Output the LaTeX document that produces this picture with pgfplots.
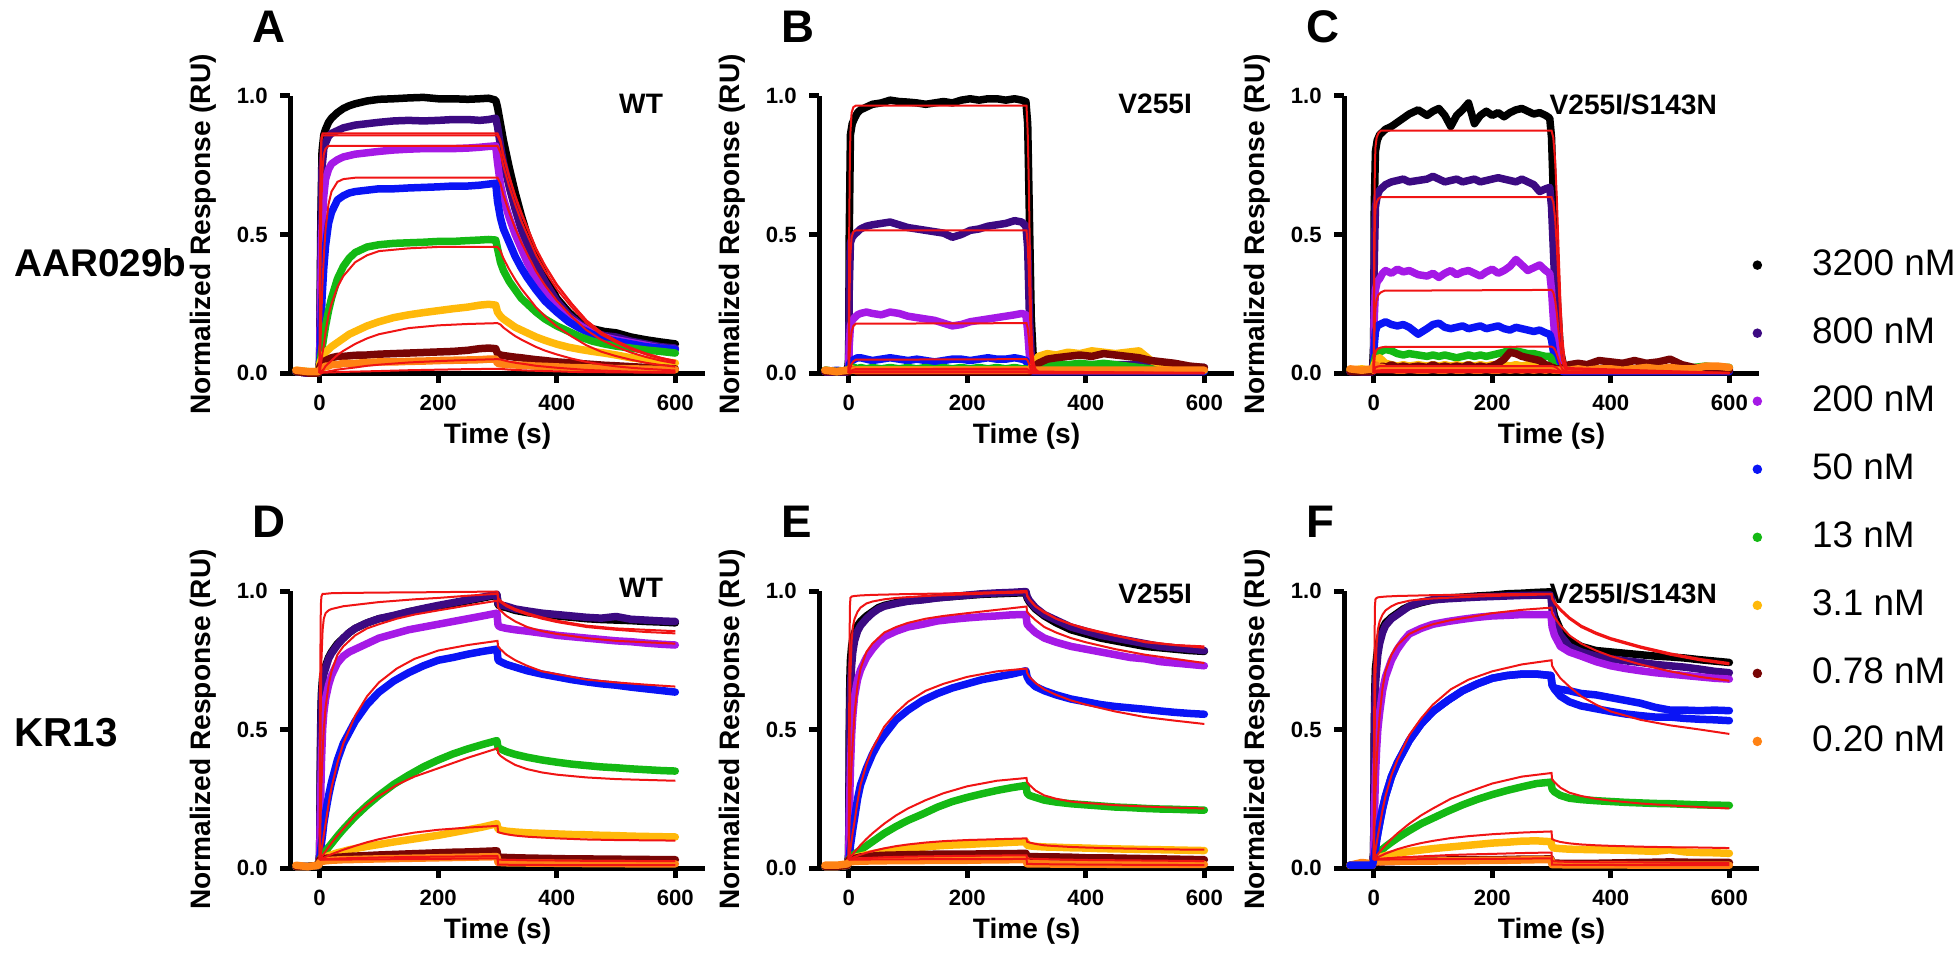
\documentclass[border=0pt]{standalone}
\usepackage{pgfplots}
\usepackage{pgfplotstable}
\pgfplotsset{compat=1.18}
\usepackage{fontspec}
\setmainfont{Liberation Sans}

\definecolor{c1}{RGB}{0,0,0}
\definecolor{c2}{RGB}{60,10,130}
\definecolor{c3}{RGB}{165,25,230}
\definecolor{c4}{RGB}{10,20,245}
\definecolor{c5}{RGB}{20,185,20}
\definecolor{c6}{RGB}{255,185,10}
\definecolor{c7}{RGB}{120,5,5}
\definecolor{c8}{RGB}{255,130,20}
\definecolor{fitred}{RGB}{240,20,20}

% ---------- panel A: AAR029b / WT ----------
\pgfplotstableread{
t a b c d e f g h
-40 0.005 0.005 0.005 0.005 0.005 0.01 0.005 0.01
-20 0.0 0.0 0.0 0.0 0.005 0.005 0.0 0.005
-2 0.0 0.0 0.0 0.0 0.0 0.005 0.0 0.005
0 0.05 0.04 0.03 0.02 0.03 0.03 0.02 0.01
2 0.55 0.45 0.30 0.15 0.06 0.045 0.03 0.015
4 0.80 0.74 0.52 0.27 0.09 0.055 0.035 0.02
7 0.86 0.81 0.64 0.38 0.13 0.065 0.04 0.02
10 0.88 0.83 0.70 0.46 0.17 0.075 0.045 0.025
15 0.905 0.855 0.735 0.54 0.225 0.085 0.05 0.025
20 0.92 0.865 0.755 0.58 0.27 0.095 0.055 0.03
30 0.94 0.875 0.77 0.625 0.34 0.11 0.06 0.03
40 0.955 0.885 0.78 0.64 0.385 0.125 0.06 0.035
50 0.965 0.89 0.785 0.65 0.415 0.14 0.062 0.035
60 0.972 0.895 0.79 0.655 0.435 0.15 0.064 0.035
80 0.982 0.90 0.795 0.66 0.455 0.17 0.065 0.038
100 0.988 0.905 0.80 0.665 0.463 0.185 0.068 0.04
125 0.99 0.91 0.805 0.665 0.468 0.20 0.07 0.04
150 0.993 0.912 0.808 0.668 0.47 0.21 0.072 0.042
175 0.995 0.91 0.81 0.67 0.472 0.218 0.074 0.043
200 0.99 0.912 0.81 0.672 0.475 0.225 0.076 0.045
225 0.99 0.915 0.81 0.675 0.475 0.232 0.078 0.046
250 0.988 0.915 0.812 0.675 0.478 0.238 0.082 0.047
270 0.99 0.912 0.815 0.678 0.48 0.245 0.088 0.048
285 0.992 0.915 0.818 0.682 0.482 0.248 0.09 0.05
297 0.985 0.92 0.82 0.685 0.48 0.245 0.088 0.05
300 0.96 0.89 0.76 0.62 0.45 0.22 0.07 0.035
305 0.90 0.82 0.68 0.56 0.40 0.205 0.065 0.033
310 0.84 0.76 0.63 0.52 0.37 0.195 0.063 0.032
320 0.74 0.67 0.56 0.47 0.33 0.18 0.06 0.03
330 0.65 0.59 0.50 0.42 0.30 0.165 0.057 0.029
340 0.57 0.52 0.45 0.38 0.27 0.155 0.055 0.028
350 0.50 0.46 0.40 0.345 0.25 0.145 0.052 0.027
365 0.42 0.39 0.34 0.30 0.22 0.13 0.048 0.025
380 0.35 0.33 0.29 0.26 0.195 0.118 0.045 0.024
400 0.27 0.26 0.24 0.22 0.17 0.104 0.04 0.022
420 0.22 0.21 0.20 0.185 0.15 0.093 0.037 0.02
440 0.18 0.175 0.17 0.16 0.13 0.085 0.034 0.019
460 0.16 0.15 0.145 0.14 0.115 0.078 0.031 0.018
480 0.15 0.135 0.13 0.125 0.105 0.072 0.028 0.017
500 0.145 0.13 0.12 0.115 0.097 0.065 0.026 0.016
525 0.13 0.115 0.11 0.105 0.09 0.055 0.023 0.015
550 0.12 0.105 0.10 0.095 0.083 0.048 0.02 0.014
575 0.112 0.095 0.09 0.09 0.078 0.042 0.018 0.013
600 0.105 0.09 0.085 0.085 0.072 0.036 0.015 0.012
}\datA
\pgfplotstableread{
t a b c d e f g h
0 0 0 0 0 0 0 0 0
1 0.6 0.55 0.3 0.08 0.015 0.002 0 0
2 0.8 0.78 0.5 0.15 0.03 0.004 0.001 0
3 0.85 0.84 0.62 0.22 0.045 0.006 0.001 0
5 0.865 0.858 0.74 0.33 0.075 0.01 0.002 0.001
7 0.865 0.858 0.79 0.42 0.1 0.014 0.003 0.001
10 0.865 0.858 0.81 0.52 0.15 0.025 0.004 0.001
15 0.865 0.858 0.82 0.61 0.21 0.035 0.006 0.002
20 0.865 0.858 0.82 0.655 0.25 0.045 0.008 0.002
30 0.865 0.858 0.82 0.69 0.31 0.065 0.012 0.003
40 0.865 0.858 0.82 0.70 0.35 0.08 0.015 0.004
60 0.865 0.858 0.82 0.705 0.40 0.105 0.02 0.005
80 0.865 0.858 0.82 0.705 0.425 0.125 0.026 0.006
100 0.865 0.858 0.82 0.705 0.44 0.14 0.03 0.007
150 0.865 0.858 0.82 0.705 0.45 0.162 0.038 0.01
200 0.865 0.858 0.82 0.705 0.455 0.172 0.043 0.012
250 0.865 0.858 0.82 0.705 0.455 0.177 0.047 0.014
300 0.865 0.858 0.82 0.705 0.455 0.18 0.05 0.015
305 0.84 0.833 0.795 0.684 0.441 0.175 0.049 0.015
310 0.787 0.781 0.746 0.642 0.414 0.164 0.046 0.014
320 0.709 0.704 0.672 0.578 0.373 0.148 0.041 0.012
330 0.64 0.635 0.607 0.522 0.337 0.133 0.037 0.011
340 0.58 0.575 0.549 0.472 0.305 0.121 0.034 0.01
350 0.528 0.523 0.50 0.43 0.278 0.11 0.031 0.009
365 0.45 0.446 0.426 0.367 0.237 0.094 0.026 0.008
380 0.389 0.386 0.369 0.317 0.205 0.081 0.023 0.007
400 0.32 0.317 0.303 0.261 0.168 0.067 0.019 0.006
425 0.251 0.249 0.238 0.204 0.132 0.052 0.015 0.004
450 0.19 0.189 0.18 0.155 0.10 0.04 0.011 0.003
475 0.147 0.146 0.139 0.12 0.077 0.031 0.009 0.003
500 0.117 0.116 0.111 0.095 0.061 0.024 0.007 0.002
525 0.091 0.09 0.086 0.074 0.048 0.019 0.005 0.002
550 0.071 0.07 0.067 0.058 0.037 0.015 0.004 0.001
575 0.055 0.055 0.052 0.045 0.029 0.012 0.003 0.001
600 0.043 0.043 0.041 0.035 0.023 0.009 0.003 0.001
}\fitA

% ---------- panel B: AAR029b / V255I ----------
\pgfplotstableread{
t a b c d e f g h
-40 0.01 0.005 0.005 0.005 0.01 0.01 0.005 0.01
-20 0.005 0.005 0.005 0.01 0.005 0.005 0.005 0.005
-2 0.01 0.005 0.005 0.005 0.01 0.01 0.005 0.01
0 0.05 0.03 0.02 0.01 0.01 0.01 0.005 0.01
1 0.5 0.3 0.1 0.03 0.015 0.01 0.005 0.01
3 0.86 0.47 0.17 0.04 0.02 0.015 0.01 0.01
6 0.90 0.49 0.19 0.045 0.02 0.015 0.01 0.01
10 0.92 0.50 0.20 0.05 0.02 0.01 0.01 0.01
15 0.94 0.51 0.21 0.055 0.015 0.01 0.005 0.01
20 0.95 0.52 0.215 0.055 0.02 0.01 0.005 0.01
30 0.96 0.53 0.22 0.05 0.015 0.01 0.005 0.01
40 0.97 0.535 0.215 0.045 0.02 0.01 0.005 0.01
55 0.975 0.54 0.21 0.05 0.015 0.01 0.005 0.01
70 0.985 0.545 0.22 0.055 0.02 0.01 0.005 0.01
85 0.98 0.535 0.215 0.05 0.015 0.01 0.005 0.01
100 0.978 0.525 0.205 0.045 0.02 0.01 0.005 0.01
115 0.975 0.52 0.20 0.05 0.015 0.01 0.005 0.01
130 0.97 0.515 0.195 0.045 0.02 0.01 0.005 0.01
145 0.975 0.51 0.19 0.04 0.015 0.01 0.005 0.01
160 0.98 0.505 0.18 0.045 0.02 0.01 0.005 0.01
175 0.975 0.49 0.17 0.05 0.015 0.01 0.005 0.01
190 0.985 0.50 0.175 0.05 0.02 0.01 0.005 0.01
205 0.99 0.515 0.185 0.045 0.015 0.01 0.005 0.01
220 0.985 0.52 0.19 0.05 0.02 0.01 0.005 0.01
235 0.99 0.53 0.195 0.055 0.015 0.01 0.005 0.01
250 0.99 0.535 0.20 0.05 0.02 0.01 0.005 0.01
265 0.985 0.54 0.205 0.05 0.015 0.01 0.005 0.01
280 0.99 0.55 0.21 0.055 0.02 0.01 0.005 0.01
292 0.985 0.545 0.215 0.05 0.015 0.01 0.005 0.01
299 0.98 0.53 0.21 0.045 0.015 0.01 0.005 0.01
302 0.90 0.45 0.15 0.03 0.01 0.01 0.005 0.01
305 0.55 0.20 0.06 0.01 0.01 0.01 0.005 0.01
308 0.20 0.06 0.02 0.005 0.01 0.02 0.01 0.01
312 0.03 0.02 0.01 0.005 0.01 0.03 0.02 0.01
320 0.01 0.015 0.01 0.005 0.02 0.06 0.035 0.01
335 0.01 0.02 0.01 0.005 0.03 0.07 0.05 0.01
350 0.01 0.025 0.01 0.005 0.035 0.065 0.055 0.01
370 0.01 0.025 0.01 0.005 0.03 0.075 0.06 0.01
390 0.01 0.03 0.01 0.005 0.035 0.07 0.065 0.01
410 0.01 0.03 0.01 0.005 0.03 0.08 0.06 0.01
430 0.01 0.03 0.01 0.005 0.035 0.075 0.07 0.01
450 0.01 0.03 0.01 0.005 0.03 0.07 0.065 0.01
470 0.01 0.03 0.01 0.005 0.025 0.075 0.06 0.01
490 0.01 0.03 0.01 0.005 0.02 0.08 0.055 0.01
510 0.01 0.03 0.01 0.005 0.015 0.045 0.045 0.01
530 0.01 0.028 0.01 0.005 0.01 0.03 0.04 0.01
550 0.01 0.025 0.01 0.005 0.01 0.025 0.035 0.01
575 0.01 0.022 0.01 0.005 0.01 0.02 0.025 0.01
600 0.01 0.02 0.01 0.005 0.01 0.015 0.02 0.01
}\datB
\pgfplotstableread{
t a b c d e f g h
0 0 0 0 0 0 0 0 0
1 0.53 0.2 0.04 0.008 0.002 0.001 0.001 0
2 0.77 0.35 0.08 0.015 0.004 0.002 0.002 0.001
3 0.87 0.43 0.11 0.02 0.006 0.003 0.002 0.001
5 0.94 0.49 0.15 0.032 0.009 0.004 0.003 0.002
8 0.96 0.51 0.17 0.042 0.012 0.005 0.004 0.002
12 0.965 0.515 0.178 0.048 0.014 0.006 0.004 0.002
300 0.965 0.515 0.18 0.05 0.015 0.006 0.004 0.002
302 0.87 0.464 0.162 0.045 0.013 0.005 0.004 0.002
304 0.675 0.36 0.126 0.035 0.01 0.004 0.003 0.001
306 0.386 0.206 0.072 0.02 0.006 0.002 0.002 0.001
308 0.174 0.093 0.032 0.009 0.003 0.001 0.001 0
310 0.077 0.041 0.014 0.004 0.001 0 0 0
312 0.039 0.021 0.007 0.002 0 0 0 0
315 0.014 0.008 0.003 0.001 0 0 0 0
320 0.005 0.003 0.001 0 0 0 0 0
600 0 0 0 0 0 0 0 0
}\fitB

% ---------- panel C: AAR029b / V255I/S143N ----------
\pgfplotstableread{
t a b c d e f g h
-40 0.01 0.005 0.01 0.005 0.01 0.01 0.005 0.015
-20 0.01 0.005 0.005 0.01 0.01 0.015 0.005 0.01
-2 0.01 0.005 0.005 0.005 0.01 0.01 0.005 0.015
0 0.10 0.05 0.03 0.02 0.02 0.02 0.01 0.01
1 0.60 0.40 0.20 0.10 0.04 0.03 0.01 0.02
3 0.80 0.60 0.30 0.15 0.06 0.04 0.015 0.03
6 0.84 0.64 0.33 0.17 0.07 0.05 0.02 0.025
10 0.86 0.66 0.34 0.175 0.075 0.055 0.02 0.02
15 0.87 0.67 0.36 0.18 0.08 0.045 0.025 0.02
20 0.88 0.68 0.37 0.185 0.085 0.035 0.02 0.015
30 0.89 0.69 0.36 0.175 0.08 0.03 0.03 0.015
40 0.905 0.695 0.375 0.17 0.07 0.025 0.02 0.01
50 0.92 0.70 0.365 0.175 0.065 0.03 0.025 0.01
60 0.935 0.69 0.37 0.165 0.07 0.025 0.02 0.015
75 0.95 0.695 0.355 0.14 0.065 0.03 0.025 0.01
90 0.93 0.70 0.35 0.16 0.06 0.025 0.02 0.01
100 0.945 0.71 0.36 0.175 0.065 0.03 0.03 0.015
110 0.955 0.70 0.345 0.18 0.06 0.025 0.02 0.01
120 0.93 0.69 0.36 0.165 0.065 0.03 0.025 0.01
130 0.89 0.695 0.37 0.16 0.06 0.025 0.02 0.015
140 0.93 0.70 0.355 0.165 0.055 0.03 0.025 0.01
150 0.95 0.69 0.365 0.17 0.06 0.025 0.02 0.01
160 0.975 0.695 0.37 0.16 0.065 0.03 0.03 0.015
170 0.90 0.70 0.36 0.165 0.06 0.025 0.02 0.01
180 0.93 0.69 0.35 0.17 0.065 0.03 0.025 0.01
190 0.945 0.695 0.365 0.16 0.06 0.025 0.02 0.015
200 0.93 0.70 0.375 0.165 0.065 0.03 0.025 0.01
210 0.94 0.705 0.36 0.17 0.07 0.025 0.035 0.01
220 0.925 0.70 0.37 0.16 0.075 0.03 0.05 0.015
230 0.94 0.695 0.385 0.155 0.085 0.025 0.075 0.01
240 0.95 0.69 0.41 0.165 0.08 0.03 0.07 0.015
250 0.955 0.70 0.39 0.16 0.075 0.025 0.06 0.01
260 0.945 0.69 0.37 0.155 0.07 0.03 0.055 0.015
270 0.935 0.68 0.38 0.15 0.07 0.025 0.05 0.01
280 0.94 0.655 0.39 0.155 0.065 0.03 0.045 0.015
290 0.93 0.665 0.37 0.145 0.06 0.025 0.03 0.01
297 0.92 0.67 0.36 0.14 0.06 0.025 0.025 0.015
300 0.85 0.60 0.30 0.12 0.05 0.02 0.02 0.015
303 0.65 0.45 0.20 0.08 0.03 0.015 0.02 0.01
306 0.45 0.30 0.12 0.04 0.02 0.01 0.015 0.01
310 0.25 0.15 0.06 0.02 0.01 0.01 0.015 0.01
315 0.08 0.05 0.02 0.01 0.01 0.01 0.015 0.01
320 0.03 0.02 0.01 0.005 0.01 0.01 0.02 0.01
330 0.02 0.02 0.01 0.005 0.01 0.015 0.03 0.01
345 0.01 0.015 0.01 0.005 0.01 0.015 0.035 0.015
360 0.01 0.015 0.01 0.005 0.01 0.015 0.03 0.01
380 0.01 0.015 0.01 0.005 0.01 0.015 0.045 0.015
400 0.01 0.015 0.01 0.005 0.01 0.015 0.04 0.015
420 0.01 0.015 0.01 0.005 0.01 0.015 0.035 0.01
440 0.01 0.015 0.01 0.005 0.01 0.015 0.045 0.015
460 0.01 0.015 0.01 0.005 0.01 0.015 0.035 0.02
480 0.01 0.015 0.01 0.005 0.015 0.015 0.04 0.015
500 0.01 0.015 0.01 0.005 0.01 0.015 0.05 0.02
520 0.01 0.015 0.01 0.005 0.015 0.015 0.03 0.015
540 0.01 0.015 0.01 0.005 0.02 0.015 0.02 0.015
560 0.01 0.015 0.01 0.005 0.025 0.015 0.015 0.025
580 0.01 0.015 0.01 0.005 0.02 0.015 0.01 0.025
600 0.01 0.015 0.01 0.005 0.02 0.015 0.01 0.02
}\datC
\pgfplotstableread{
t a b c d e f g h
0 0 0 0 0 0 0 0 0
1 0.525 0.38 0.12 0.038 0.01 0.004 0.002 0.001
2 0.745 0.54 0.195 0.062 0.016 0.0065 0.003 0.001
3 0.815 0.59 0.234 0.074 0.02 0.008 0.004 0.002
5 0.85 0.616 0.264 0.084 0.022 0.009 0.004 0.002
8 0.866 0.629 0.282 0.089 0.024 0.0095 0.005 0.002
12 0.875 0.635 0.291 0.092 0.025 0.01 0.005 0.002
18 0.875 0.635 0.297 0.094 0.025 0.01 0.005 0.002
300 0.875 0.635 0.30 0.095 0.025 0.01 0.005 0.002
303 0.85 0.616 0.291 0.092 0.024 0.0095 0.005 0.002
306 0.77 0.559 0.264 0.084 0.022 0.009 0.004 0.002
309 0.63 0.457 0.216 0.068 0.018 0.007 0.004 0.001
312 0.44 0.318 0.15 0.048 0.0125 0.005 0.003 0.001
315 0.26 0.19 0.09 0.029 0.0075 0.003 0.002 0.001
318 0.13 0.095 0.045 0.014 0.004 0.0015 0.001 0
322 0.05 0.038 0.018 0.006 0.0015 0.0006 0 0
326 0.018 0.013 0.006 0.002 0.0005 0.0002 0 0
600 0 0 0 0 0 0 0 0
}\fitC

% ---------- panel D: KR13 / WT ----------
\pgfplotstableread{
t a b c d e f g h
-40 0.005 0.005 0.005 0.005 0.005 0.005 0.005 0.01
-20 0.005 0.005 0.005 0.005 0.005 0.005 0.005 0.005
-2 0.01 0.01 0.01 0.01 0.01 0.01 0.01 0.01
0 0.05 0.05 0.04 0.03 0.03 0.03 0.03 0.02
1 0.35 0.30 0.15 0.05 0.033 0.031 0.03 0.022
2 0.55 0.50 0.28 0.07 0.036 0.032 0.031 0.023
3 0.63 0.60 0.38 0.09 0.039 0.033 0.032 0.024
5 0.69 0.67 0.50 0.12 0.045 0.035 0.033 0.025
7 0.71 0.70 0.56 0.16 0.05 0.037 0.034 0.025
10 0.73 0.72 0.61 0.20 0.06 0.04 0.035 0.026
15 0.76 0.755 0.66 0.26 0.075 0.044 0.036 0.027
20 0.78 0.775 0.695 0.31 0.088 0.048 0.037 0.028
30 0.81 0.805 0.74 0.39 0.115 0.055 0.039 0.029
40 0.83 0.83 0.765 0.45 0.14 0.06 0.04 0.03
50 0.85 0.85 0.78 0.49 0.163 0.066 0.042 0.03
60 0.865 0.865 0.79 0.53 0.186 0.07 0.043 0.031
80 0.885 0.885 0.81 0.59 0.226 0.078 0.045 0.032
100 0.90 0.90 0.83 0.635 0.262 0.085 0.047 0.033
125 0.91 0.912 0.845 0.675 0.302 0.094 0.049 0.034
150 0.925 0.925 0.86 0.705 0.335 0.102 0.051 0.035
175 0.935 0.937 0.87 0.73 0.365 0.11 0.053 0.036
200 0.945 0.948 0.88 0.75 0.39 0.118 0.055 0.037
225 0.955 0.958 0.89 0.76 0.412 0.128 0.057 0.038
250 0.965 0.968 0.90 0.772 0.43 0.138 0.058 0.039
275 0.975 0.978 0.91 0.782 0.446 0.148 0.06 0.04
299 0.985 0.988 0.92 0.79 0.46 0.16 0.062 0.041
301 0.95 0.955 0.875 0.75 0.435 0.14 0.04 0.02
305 0.945 0.95 0.87 0.745 0.43 0.137 0.039 0.02
315 0.94 0.945 0.865 0.735 0.42 0.133 0.038 0.019
330 0.93 0.935 0.86 0.725 0.41 0.13 0.037 0.019
350 0.922 0.928 0.855 0.712 0.40 0.127 0.036 0.018
375 0.915 0.92 0.848 0.70 0.39 0.125 0.035 0.018
400 0.91 0.915 0.84 0.69 0.382 0.123 0.034 0.017
425 0.905 0.91 0.835 0.68 0.375 0.121 0.033 0.017
450 0.90 0.905 0.83 0.672 0.37 0.12 0.033 0.016
475 0.897 0.902 0.825 0.665 0.365 0.118 0.032 0.016
500 0.895 0.908 0.82 0.66 0.362 0.117 0.032 0.016
525 0.893 0.898 0.817 0.653 0.358 0.115 0.031 0.015
550 0.89 0.895 0.812 0.647 0.355 0.114 0.031 0.015
575 0.888 0.892 0.808 0.641 0.352 0.113 0.03 0.015
600 0.885 0.89 0.805 0.635 0.35 0.112 0.03 0.015
}\datD
\pgfplotstableread{
t a b c d e f g h
0 0.03 0.03 0.03 0.03 0.03 0.03 0.03 0.03
1 0.7 0.35 0.12 0.04 0.033 0.031 0.03 0.03
2 0.95 0.6 0.22 0.05 0.036 0.032 0.03 0.03
3 0.98 0.75 0.3 0.065 0.039 0.033 0.031 0.03
5 0.99 0.86 0.42 0.09 0.045 0.035 0.031 0.03
7 0.99 0.9 0.5 0.12 0.051 0.037 0.031 0.03
10 0.99 0.92 0.58 0.16 0.06 0.04 0.032 0.03
15 0.991 0.93 0.66 0.23 0.075 0.045 0.032 0.03
20 0.992 0.935 0.71 0.29 0.09 0.05 0.033 0.03
30 0.992 0.94 0.77 0.38 0.117 0.058 0.034 0.03
40 0.993 0.945 0.80 0.45 0.142 0.066 0.035 0.03
60 0.993 0.95 0.84 0.55 0.19 0.08 0.036 0.031
80 0.994 0.955 0.865 0.62 0.228 0.093 0.037 0.031
100 0.994 0.96 0.88 0.67 0.26 0.104 0.038 0.031
130 0.995 0.965 0.90 0.72 0.30 0.117 0.039 0.032
160 0.995 0.97 0.915 0.755 0.33 0.128 0.04 0.032
200 0.996 0.975 0.93 0.785 0.36 0.138 0.041 0.033
250 0.997 0.983 0.948 0.805 0.398 0.146 0.042 0.034
300 0.998 0.99 0.965 0.82 0.432 0.152 0.043 0.035
301 0.975 0.97 0.94 0.80 0.415 0.13 0.03 0.012
305 0.965 0.96 0.93 0.79 0.405 0.127 0.03 0.012
315 0.95 0.945 0.91 0.77 0.39 0.122 0.029 0.012
330 0.935 0.93 0.89 0.75 0.372 0.117 0.029 0.011
350 0.92 0.915 0.87 0.73 0.357 0.113 0.028 0.011
375 0.905 0.90 0.855 0.71 0.345 0.11 0.028 0.011
400 0.893 0.888 0.845 0.70 0.337 0.107 0.027 0.01
450 0.875 0.87 0.83 0.68 0.327 0.103 0.026 0.01
500 0.865 0.86 0.82 0.67 0.321 0.101 0.026 0.01
550 0.86 0.852 0.815 0.662 0.318 0.10 0.025 0.01
600 0.855 0.847 0.81 0.655 0.315 0.099 0.025 0.01
}\fitD

% ---------- panel E: KR13 / V255I ----------
\pgfplotstableread{
t a b c d e f g h
-40 0.005 0.005 0.005 0.005 0.005 0.005 0.005 0.01
-20 0.005 0.005 0.005 0.005 0.005 0.005 0.005 0.01
-2 0.01 0.01 0.01 0.01 0.01 0.01 0.01 0.015
0 0.05 0.04 0.03 0.03 0.03 0.03 0.03 0.02
1 0.5 0.35 0.15 0.04 0.033 0.031 0.031 0.021
2 0.68 0.55 0.27 0.06 0.036 0.032 0.032 0.022
3 0.75 0.65 0.36 0.08 0.038 0.033 0.033 0.022
5 0.80 0.73 0.48 0.11 0.042 0.035 0.034 0.023
7 0.83 0.78 0.55 0.14 0.046 0.036 0.034 0.023
10 0.85 0.82 0.62 0.18 0.05 0.038 0.035 0.024
15 0.875 0.855 0.68 0.25 0.058 0.041 0.037 0.024
20 0.89 0.875 0.715 0.30 0.065 0.043 0.04 0.025
30 0.91 0.90 0.76 0.36 0.08 0.048 0.042 0.025
40 0.925 0.92 0.79 0.41 0.095 0.052 0.043 0.026
50 0.94 0.935 0.815 0.45 0.11 0.056 0.045 0.026
60 0.948 0.945 0.835 0.48 0.125 0.06 0.046 0.026
80 0.958 0.955 0.855 0.535 0.15 0.065 0.047 0.027
100 0.965 0.963 0.87 0.57 0.172 0.07 0.048 0.027
125 0.97 0.968 0.88 0.605 0.195 0.075 0.049 0.027
150 0.976 0.975 0.892 0.63 0.22 0.08 0.05 0.028
175 0.98 0.98 0.898 0.65 0.24 0.083 0.05 0.028
200 0.984 0.985 0.903 0.665 0.255 0.085 0.05 0.028
225 0.988 0.99 0.907 0.68 0.268 0.088 0.051 0.029
250 0.99 0.993 0.91 0.69 0.28 0.09 0.052 0.029
275 0.992 0.995 0.914 0.70 0.29 0.093 0.052 0.03
299 0.994 0.998 0.915 0.712 0.298 0.095 0.053 0.03
301 0.975 0.98 0.88 0.69 0.27 0.082 0.042 0.015
305 0.96 0.965 0.87 0.675 0.262 0.08 0.041 0.015
315 0.935 0.94 0.85 0.655 0.255 0.078 0.041 0.015
330 0.91 0.915 0.83 0.64 0.245 0.076 0.04 0.015
350 0.885 0.895 0.815 0.625 0.238 0.075 0.04 0.014
375 0.86 0.87 0.80 0.61 0.232 0.073 0.039 0.014
400 0.845 0.855 0.79 0.60 0.228 0.072 0.037 0.014
425 0.83 0.84 0.78 0.59 0.224 0.07 0.037 0.014
450 0.82 0.83 0.77 0.583 0.22 0.069 0.036 0.013
475 0.81 0.82 0.76 0.578 0.218 0.068 0.035 0.013
500 0.80 0.81 0.755 0.573 0.215 0.067 0.034 0.013
525 0.795 0.80 0.745 0.567 0.213 0.066 0.033 0.013
550 0.79 0.795 0.74 0.562 0.212 0.065 0.032 0.013
575 0.785 0.79 0.735 0.558 0.21 0.064 0.031 0.013
600 0.782 0.785 0.73 0.555 0.209 0.063 0.03 0.013
}\datE
\pgfplotstableread{
t a b c d e f g h
0 0.03 0.03 0.03 0.03 0.03 0.03 0.03 0.03
1 0.6 0.3 0.12 0.04 0.033 0.031 0.03 0.03
2 0.94 0.55 0.2 0.055 0.036 0.032 0.031 0.03
3 0.975 0.7 0.27 0.07 0.039 0.033 0.031 0.03
5 0.98 0.82 0.38 0.1 0.045 0.035 0.032 0.03
7 0.981 0.87 0.46 0.13 0.05 0.037 0.032 0.03
10 0.982 0.90 0.56 0.17 0.058 0.04 0.033 0.03
15 0.983 0.925 0.66 0.24 0.07 0.044 0.034 0.03
20 0.984 0.94 0.72 0.30 0.083 0.048 0.035 0.03
30 0.985 0.955 0.78 0.375 0.105 0.055 0.036 0.03
40 0.986 0.962 0.81 0.43 0.125 0.061 0.037 0.031
60 0.987 0.97 0.85 0.51 0.16 0.071 0.039 0.031
80 0.988 0.975 0.87 0.56 0.19 0.079 0.04 0.031
100 0.989 0.978 0.885 0.60 0.215 0.085 0.041 0.031
130 0.99 0.982 0.90 0.64 0.245 0.092 0.042 0.032
160 0.991 0.985 0.91 0.665 0.27 0.097 0.043 0.032
200 0.993 0.988 0.92 0.69 0.295 0.101 0.044 0.032
250 0.996 0.992 0.932 0.71 0.315 0.104 0.045 0.032
300 1.0 0.995 0.944 0.72 0.325 0.107 0.046 0.033
301 0.985 0.982 0.925 0.705 0.31 0.095 0.035 0.015
305 0.97 0.968 0.915 0.69 0.30 0.092 0.034 0.015
315 0.945 0.945 0.895 0.668 0.28 0.087 0.033 0.014
330 0.925 0.922 0.87 0.645 0.262 0.082 0.032 0.014
350 0.90 0.90 0.85 0.625 0.25 0.079 0.031 0.013
375 0.88 0.88 0.83 0.605 0.24 0.076 0.03 0.013
400 0.865 0.862 0.815 0.59 0.235 0.074 0.029 0.012
450 0.84 0.838 0.79 0.565 0.227 0.071 0.028 0.012
500 0.815 0.818 0.77 0.545 0.222 0.069 0.027 0.011
550 0.805 0.805 0.755 0.532 0.218 0.067 0.026 0.011
600 0.80 0.795 0.74 0.52 0.215 0.066 0.025 0.01
}\fitE

% ---------- panel F: KR13 / V255I/S143N (i = second 50 nM trace) ----------
\pgfplotstableread{
t a b c d e f g h i
-40 0.01 0.01 0.01 0.01 0.01 0.01 0.01 0.01 0.01
-20 0.015 0.01 0.01 0.01 0.01 0.015 0.01 0.02 0.01
-2 0.01 0.01 0.01 0.01 0.01 0.01 0.01 0.015 0.01
0 0.06 0.05 0.03 0.03 0.03 0.03 0.02 0.02 0.03
1 0.5 0.4 0.15 0.04 0.033 0.031 0.02 0.021 0.04
2 0.65 0.58 0.25 0.055 0.036 0.032 0.02 0.021 0.055
3 0.72 0.66 0.33 0.07 0.039 0.033 0.021 0.022 0.07
5 0.76 0.72 0.43 0.10 0.045 0.035 0.021 0.022 0.10
7 0.80 0.77 0.50 0.125 0.05 0.037 0.021 0.023 0.125
10 0.83 0.81 0.56 0.16 0.058 0.04 0.022 0.023 0.16
15 0.865 0.85 0.64 0.215 0.068 0.042 0.022 0.024 0.215
20 0.885 0.875 0.69 0.26 0.077 0.045 0.023 0.024 0.26
30 0.905 0.90 0.75 0.33 0.093 0.05 0.023 0.025 0.33
40 0.92 0.915 0.79 0.38 0.108 0.053 0.024 0.025 0.38
50 0.935 0.93 0.82 0.42 0.122 0.056 0.025 0.025 0.42
60 0.945 0.945 0.845 0.46 0.135 0.06 0.025 0.025 0.46
80 0.958 0.96 0.865 0.52 0.16 0.065 0.026 0.025 0.52
100 0.968 0.968 0.88 0.565 0.18 0.07 0.028 0.025 0.565
125 0.975 0.972 0.89 0.605 0.205 0.075 0.029 0.026 0.605
150 0.978 0.975 0.898 0.64 0.228 0.08 0.03 0.026 0.64
175 0.982 0.978 0.905 0.665 0.248 0.085 0.03 0.027 0.665
200 0.985 0.98 0.91 0.685 0.265 0.09 0.03 0.028 0.685
225 0.99 0.982 0.912 0.695 0.28 0.093 0.031 0.028 0.695
250 0.992 0.984 0.915 0.70 0.293 0.097 0.032 0.029 0.70
275 0.995 0.985 0.915 0.70 0.305 0.098 0.032 0.03 0.70
299 0.997 0.985 0.915 0.695 0.31 0.095 0.033 0.03 0.695
301 0.95 0.93 0.87 0.66 0.285 0.075 0.018 0.012 0.66
305 0.91 0.89 0.84 0.65 0.275 0.072 0.018 0.012 0.645
315 0.86 0.84 0.80 0.645 0.262 0.07 0.017 0.012 0.62
330 0.825 0.80 0.78 0.64 0.252 0.068 0.017 0.011 0.60
350 0.80 0.78 0.765 0.63 0.247 0.067 0.017 0.011 0.585
375 0.785 0.765 0.745 0.625 0.243 0.066 0.017 0.011 0.575
400 0.78 0.755 0.73 0.615 0.24 0.065 0.018 0.011 0.565
425 0.775 0.748 0.72 0.605 0.237 0.064 0.019 0.011 0.556
450 0.77 0.742 0.712 0.595 0.235 0.062 0.02 0.01 0.55
475 0.765 0.735 0.705 0.58 0.233 0.06 0.021 0.01 0.545
500 0.762 0.73 0.70 0.57 0.232 0.066 0.022 0.01 0.545
525 0.758 0.725 0.695 0.57 0.23 0.058 0.021 0.01 0.54
550 0.752 0.718 0.69 0.568 0.228 0.056 0.02 0.01 0.537
575 0.747 0.71 0.685 0.57 0.227 0.055 0.02 0.01 0.535
600 0.742 0.705 0.682 0.568 0.226 0.053 0.02 0.01 0.532
}\datF
\pgfplotstableread{
t a b c d e f g h
0 0.03 0.03 0.03 0.03 0.03 0.03 0.03 0.03
1 0.6 0.3 0.12 0.04 0.033 0.031 0.03 0.03
2 0.94 0.55 0.2 0.05 0.036 0.032 0.031 0.03
3 0.97 0.7 0.27 0.065 0.039 0.033 0.031 0.03
5 0.975 0.81 0.38 0.09 0.045 0.035 0.032 0.03
7 0.977 0.86 0.46 0.115 0.05 0.038 0.032 0.03
10 0.978 0.89 0.55 0.15 0.058 0.042 0.033 0.03
15 0.979 0.915 0.65 0.21 0.07 0.047 0.034 0.03
20 0.98 0.93 0.71 0.26 0.082 0.052 0.035 0.03
30 0.981 0.945 0.77 0.335 0.105 0.06 0.036 0.031
40 0.982 0.955 0.805 0.39 0.125 0.068 0.038 0.031
60 0.983 0.965 0.845 0.48 0.16 0.08 0.04 0.031
80 0.984 0.97 0.865 0.54 0.19 0.09 0.042 0.032
100 0.985 0.973 0.88 0.59 0.215 0.098 0.044 0.032
130 0.986 0.976 0.895 0.645 0.25 0.108 0.047 0.032
160 0.987 0.979 0.905 0.68 0.275 0.115 0.049 0.033
200 0.988 0.982 0.92 0.71 0.305 0.122 0.051 0.033
250 0.989 0.985 0.932 0.735 0.33 0.128 0.054 0.034
300 0.99 0.988 0.94 0.75 0.343 0.132 0.056 0.035
301 0.975 0.972 0.92 0.73 0.32 0.105 0.025 0.012
305 0.96 0.955 0.905 0.715 0.31 0.10 0.024 0.012
315 0.935 0.93 0.875 0.685 0.29 0.094 0.023 0.012
330 0.905 0.90 0.84 0.655 0.272 0.089 0.022 0.011
350 0.875 0.87 0.81 0.62 0.26 0.085 0.021 0.011
375 0.85 0.845 0.785 0.59 0.25 0.082 0.021 0.011
400 0.83 0.825 0.765 0.565 0.243 0.08 0.02 0.011
450 0.80 0.795 0.735 0.535 0.233 0.077 0.02 0.01
500 0.775 0.77 0.71 0.515 0.226 0.075 0.019 0.01
550 0.755 0.75 0.69 0.50 0.22 0.074 0.019 0.01
600 0.74 0.735 0.676 0.484 0.215 0.072 0.018 0.01
}\fitF

\pgfplotsset{
  dat/.style={line width=0.75mm, line join=round, line cap=round, no markers, forget plot},
  fit/.style={fitred, line width=0.2mm, no markers, forget plot},
  panel/.style={
    scale only axis, width=41.5mm, height=27.7mm,
    xmin=-50, xmax=650, ymin=0, ymax=1,
    axis lines=left, axis line style={-, line width=0.5mm},
    clip=false,
    xtick={0,200,400,600}, xticklabels={0,200,400,600},
    ytick={0,0.5,1}, yticklabels={0.0,0.5,1.0},
    tick align=outside, major tick length=1.0mm,
    tick style={line width=0.5mm, black},
    tick label style={font=\fontsize{6.3}{7}\selectfont\bfseries},
    xlabel={Time (s)}, ylabel={Normalized Response (RU)},
    label style={font=\fontsize{8}{9}\selectfont\bfseries},
    xlabel style={at={(axis description cs:0.5,-0.23)}, anchor=center},
    ylabel style={at={(axis description cs:-0.21,0.5)}, anchor=center},
  },
}
\newcommand{\letter}[1]{\node[anchor=west, font=\fontsize{13}{14}\selectfont\bfseries] at (axis description cs:-0.12,1.25) {#1};}
\newcommand{\ptitle}[2]{\node[anchor=east, font=\fontsize{8}{9}\selectfont\bfseries] at (axis cs:600,#1) {#2};}
\newcommand{\drawdata}[1]{%
  \addplot[dat,c1] table[x=t,y=a]{#1};
  \addplot[dat,c2] table[x=t,y=b]{#1};
  \addplot[dat,c3] table[x=t,y=c]{#1};
  \addplot[dat,c4] table[x=t,y=d]{#1};
  \addplot[dat,c5] table[x=t,y=e]{#1};
  \addplot[dat,c6] table[x=t,y=f]{#1};
  \addplot[dat,c7] table[x=t,y=g]{#1};
  \addplot[dat,c8] table[x=t,y=h]{#1};}
\newcommand{\drawfits}[1]{%
  \addplot[fit] table[x=t,y=a]{#1};
  \addplot[fit] table[x=t,y=b]{#1};
  \addplot[fit] table[x=t,y=c]{#1};
  \addplot[fit] table[x=t,y=d]{#1};
  \addplot[fit] table[x=t,y=e]{#1};
  \addplot[fit] table[x=t,y=f]{#1};
  \addplot[fit] table[x=t,y=g]{#1};
  \addplot[fit] table[x=t,y=h]{#1};}

\begin{document}
\begin{tikzpicture}[x=1mm,y=1mm]
\useasboundingbox (0,0) rectangle (195.9,95.2);

\node[anchor=west, font=\fontsize{11}{12}\selectfont\bfseries] at (0.2,68.9) {AAR029b};
\node[anchor=west, font=\fontsize{11.5}{12}\selectfont\bfseries] at (0.2,21.9) {KR13};

% row 1
\begin{axis}[panel, at={(29.0mm,57.9mm)}, anchor=south west]
\drawdata{\datA}
\drawfits{\fitA}
\letter{A}
\ptitle{0.97}{WT}
\end{axis}

\begin{axis}[panel, at={(81.9mm,57.9mm)}, anchor=south west]
\drawdata{\datB}
\drawfits{\fitB}
\letter{B}
\ptitle{0.97}{V255I}
\end{axis}

\begin{axis}[panel, at={(134.4mm,57.9mm)}, anchor=south west,
  legend style={at={(axis description cs:0.983,0.448)}, anchor=north west,
    draw=none, fill=none, inner sep=0pt, row sep=3.7mm, column sep=5.0mm,
    font=\fontsize{10.5}{11}\selectfont, nodes={inner sep=0pt}},
  legend cell align=left,
  legend image code/.code={\fill[#1] (0mm,0mm) circle (0.4mm);}]
\drawdata{\datC}
\drawfits{\fitC}
\letter{C}
\ptitle{0.97}{V255I/S143N}
\addlegendimage{c1}\addlegendentry{3200 nM}
\addlegendimage{c2}\addlegendentry{800 nM}
\addlegendimage{c3}\addlegendentry{200 nM}
\addlegendimage{c4}\addlegendentry{50 nM}
\addlegendimage{c5}\addlegendentry{13 nM}
\addlegendimage{c6}\addlegendentry{3.1 nM}
\addlegendimage{c7}\addlegendentry{0.78 nM}
\addlegendimage{c8}\addlegendentry{0.20 nM}
\end{axis}

% row 2
\begin{axis}[panel, at={(29.0mm,8.4mm)}, anchor=south west]
\drawdata{\datD}
\drawfits{\fitD}
\letter{D}
\ptitle{1.01}{WT}
\end{axis}

\begin{axis}[panel, at={(81.9mm,8.4mm)}, anchor=south west]
\drawdata{\datE}
\drawfits{\fitE}
\letter{E}
\ptitle{0.99}{V255I}
\end{axis}

\begin{axis}[panel, at={(134.4mm,8.4mm)}, anchor=south west]
\drawdata{\datF}
\addplot[dat,c4] table[x=t,y=i]{\datF};
\drawfits{\fitF}
\letter{F}
\ptitle{0.99}{V255I/S143N}
\end{axis}
\end{tikzpicture}
\end{document}
